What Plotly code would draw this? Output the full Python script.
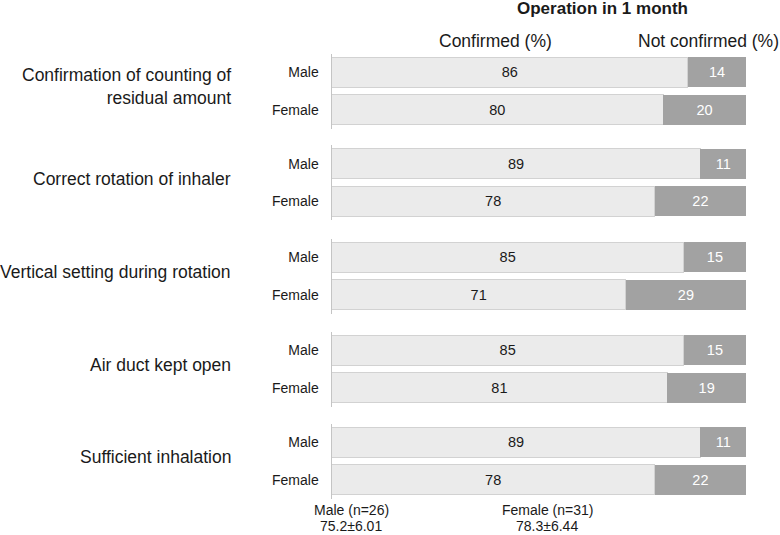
import plotly.graph_objects as go
from plotly.subplots import make_subplots

items = ["Confirmation of counting of<br>residual amount", "Correct rotation of inhaler",
         "Vertical setting during rotation", "Air duct kept open", "Sufficient inhalation"]
sexes = ["Male", "Female"]
male_confirmed = [86, 89, 85, 85, 89]
male_not = [14, 11, 15, 15, 11]
female_confirmed = [80, 78, 71, 81, 78]
female_not = [20, 22, 29, 19, 22]

W, H = 780, 535
FONT = "Liberation Sans, Arial, sans-serif"
LIGHT = "#ebebeb"
DARK = "#a2a2a2"

fig = make_subplots(rows=5, cols=1, shared_xaxes=True)

group_tops = [53.5, 145.0, 238.5, 331.5, 423.5]
group_h = 75.0

for i in range(5):
    r = i + 1
    conf = [male_confirmed[i], female_confirmed[i]]
    notc = [male_not[i], female_not[i]]
    fig.add_trace(go.Bar(y=sexes, x=conf, orientation="h", marker=dict(color=LIGHT, line=dict(color="#d2d2d2", width=1)),
                         text=[str(v) for v in conf], textposition="inside", insidetextanchor="middle",
                         textfont=dict(color="#1a1a1a", size=14.5, family=FONT), showlegend=False, hoverinfo="skip"),
                  row=r, col=1)
    fig.add_trace(go.Bar(y=sexes, x=notc, orientation="h", marker=dict(color=DARK, line=dict(color=DARK, width=0)),
                         text=[str(v) for v in notc], textposition="inside", insidetextanchor="middle",
                         textfont=dict(color="white", size=14.5, family=FONT), showlegend=False, hoverinfo="skip"),
                  row=r, col=1)
    top = group_tops[i]
    yname = "yaxis" if i == 0 else f"yaxis{r}"
    fig.layout[yname].update(domain=[1 - (top + group_h) / H, 1 - top / H],
                             autorange="reversed", showline=True, linecolor="#c4c4c4", linewidth=1,
                             ticks="", ticklabelstandoff=9, showgrid=False, zeroline=False,
                             tickfont=dict(size=14, color="#1a1a1a", family=FONT))
    xname = "xaxis" if i == 0 else f"xaxis{r}"
    fig.layout[xname].update(domain=[331.5 / W, 746 / W], range=[0, 100], visible=False, showgrid=False)
    fig.add_annotation(xref="paper", yref="paper", x=233 / W, y=1 - (top + group_h / 2 - 4) / H,
                       text=items[i], showarrow=False, xanchor="right", yanchor="middle", align="right",
                       font=dict(size=17.5, color="#1a1a1a", family=FONT))

def ann(text, x, y, size, bold=False):
    fig.add_annotation(xref="paper", yref="paper", x=x / W, y=1 - y / H, text=f"<b>{text}</b>" if bold else text,
                       showarrow=False, xanchor="center", yanchor="middle",
                       font=dict(size=size, color="#1a1a1a", family=FONT))

ann("Operation in 1 month", 602, 9, 17, bold=True)
ann("Confirmed (%)", 495, 41, 17.5)
ann("Not confirmed (%)", 708, 41, 17.5)
ann("Male (n=26)", 351, 510, 14)
ann("75.2±6.01", 351, 526, 14)
ann("Female (n=31)", 547, 510, 14)
ann("78.3±6.44", 547, 526, 14)

fig.update_layout(width=W, height=H, barmode="stack", bargap=0.19,
                  margin=dict(l=0, r=0, t=0, b=0), plot_bgcolor="white", paper_bgcolor="white",
                  font=dict(family=FONT), uniformtext=dict(minsize=13, mode="show"))

fig.write_html("out.html", config={"displayModeBar": False},
               post_script="document.body.style.margin='0';document.body.style.padding='0';")
